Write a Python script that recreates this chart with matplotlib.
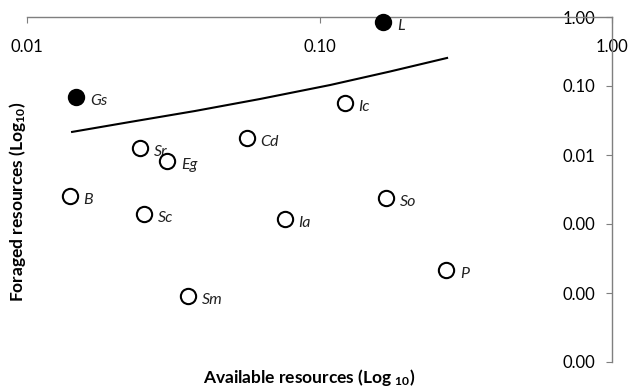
import matplotlib
matplotlib.use("Agg")
import matplotlib.pyplot as plt
from matplotlib.ticker import FixedLocator, FormatStrFormatter

plt.rcParams['font.family'] = ['Lato', 'DejaVu Sans']
plt.rcParams['mathtext.fontset'] = 'custom'
plt.rcParams['mathtext.rm'] = 'Lato'
plt.rcParams['mathtext.it'] = 'Lato:italic'
plt.rcParams['mathtext.bf'] = 'Lato:bold'

# species: available vs foraged resources
species = ['L', 'Gs', 'Ic', 'Sr', 'Cd', 'Eg', 'B', 'Sc', 'Ia', 'So', 'P', 'Sm']
available = [0.165, 0.0147, 0.122, 0.0243, 0.0564, 0.0301, 0.0140, 0.0252, 0.076, 0.169, 0.271, 0.0354]
foraged = [0.85, 0.069, 0.0567, 0.0126, 0.0176, 0.00818, 0.00255, 0.0014, 0.00118, 0.00238, 0.000215, 9.05e-5]
selected = ['L', 'Gs']

# reference curve
curve_x = [0.01426, 0.0225, 0.0375, 0.0626, 0.1087, 0.174, 0.273]
curve_y = [0.0216, 0.0301, 0.0434, 0.0648, 0.1033, 0.162, 0.255]

x_ticks = [0.01, 0.1, 1.0]
y_ticks = [1e-5, 1e-4, 1e-3, 1e-2, 1e-1, 1.0]

fig = plt.figure(figsize=(6.32, 3.88), dpi=100)
ax = fig.add_axes([27 / 632, 1 - 362 / 388, (612 - 27) / 632, (362 - 17) / 388])
ax.set_xscale('log')
ax.set_yscale('log')
ax.set_xlim(0.01, 1.0)
ax.set_ylim(1e-5, 1.0)

ax.plot(curve_x, curve_y, color='black', lw=1.5, zorder=2)

for name, x, y in zip(species, available, foraged):
    face = 'black' if name in selected else 'white'
    ax.plot(x, y, 'o', ms=11, mfc=face, mec='black', mew=1.5, zorder=3, clip_on=False)
    ax.annotate(name, (x, y), xytext=(10, -3), textcoords='offset points',
                ha='left', va='center', fontsize=11.5, style='italic', color='#222222')

# axes cross at the top-right corner
ax.spines['top'].set_visible(False)
ax.spines['right'].set_visible(False)
ax.spines['bottom'].set_position(('data', 1.0))
ax.spines['left'].set_position(('data', 1.0))
for s in ('bottom', 'left'):
    ax.spines[s].set_color('#7f7f7f')
    ax.spines[s].set_linewidth(1.0)

ax.xaxis.set_major_locator(FixedLocator(x_ticks))
ax.yaxis.set_major_locator(FixedLocator(y_ticks))
ax.xaxis.set_minor_locator(FixedLocator([]))
ax.yaxis.set_minor_locator(FixedLocator([]))
ax.xaxis.set_major_formatter(FormatStrFormatter('%.2f'))
ax.yaxis.set_major_formatter(FormatStrFormatter('%.2f'))
ax.tick_params(axis='x', direction='out', length=4, color='#7f7f7f', pad=12, labelsize=12)
ax.tick_params(axis='y', direction='out', length=4, color='#7f7f7f', pad=8, labelsize=12)

fig.text(0.49, 0.027, r'Available resources (Log $\mathbf{_{10}}$)', ha='center', va='center',
         fontsize=12.5, fontweight='bold')
fig.text(0.028, 0.48, r'Foraged resources (Log$\mathbf{_{10}}$)', ha='center', va='center',
         rotation=90, fontsize=12.5, fontweight='bold')

fig.savefig('out.png', dpi=100)
